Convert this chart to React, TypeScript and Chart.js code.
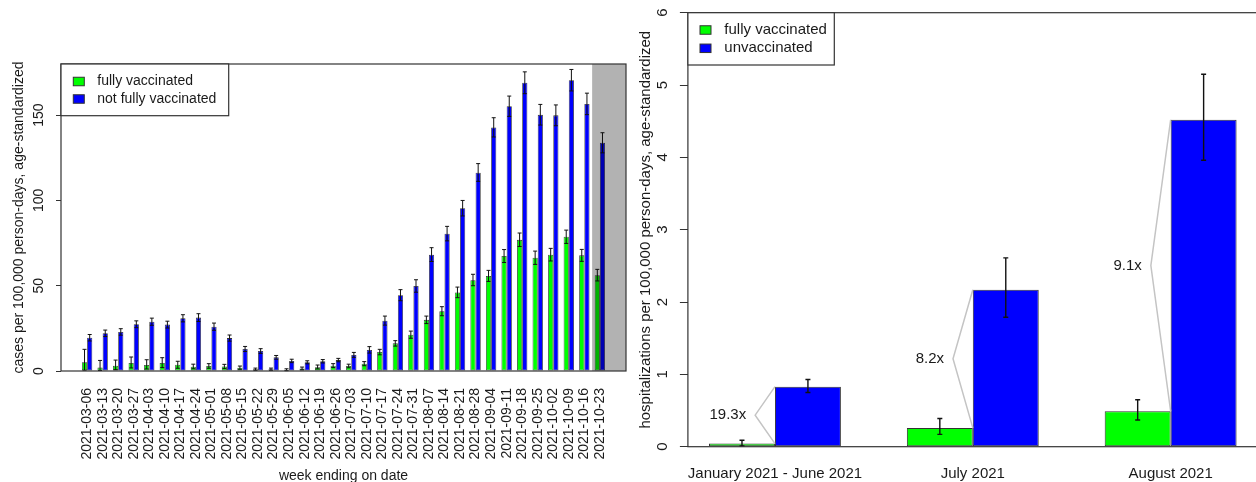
import React, { useEffect, useRef } from 'react';
import { Chart, registerables } from 'chart.js';

Chart.register(...registerables);

const FONT = "'Liberation Sans', Arial, Helvetica, sans-serif";
const TEXT = '#1a1a1a';
const GREEN = '#00ff00';
const BLUE = '#0000ff';
const EDGE = '#333333';

// ---------- left chart: weekly cases ----------
const weeks = [
  '2021-03-06', '2021-03-13', '2021-03-20', '2021-03-27', '2021-04-03', '2021-04-10',
  '2021-04-17', '2021-04-24', '2021-05-01', '2021-05-08', '2021-05-15', '2021-05-22',
  '2021-05-29', '2021-06-05', '2021-06-12', '2021-06-19', '2021-06-26', '2021-07-03',
  '2021-07-10', '2021-07-17', '2021-07-24', '2021-07-31', '2021-08-07', '2021-08-14',
  '2021-08-21', '2021-08-28', '2021-09-04', '2021-09-11', '2021-09-18', '2021-09-25',
  '2021-10-02', '2021-10-09', '2021-10-16', '2021-10-23',
];
const vaxCases = [
  5.1, 2.0, 3.1, 4.7, 3.5, 4.7, 3.7, 2.5, 2.9, 2.7, 1.9, 1.0, 1.0, 0.7, 1.5, 2.2, 3.1, 2.9,
  4.3, 11.1, 16.2, 21.3, 30.0, 35.0, 46.0, 53.2, 55.7, 67.4, 76.9, 66.4, 68.2, 78.7, 67.8, 56.2,
];
const vaxCasesLow = [
  0.5, 0.3, 0.8, 1.8, 1.2, 2.0, 1.6, 1.3, 1.6, 1.4, 1.0, 0.4, 0.4, 0.2, 0.7, 1.2, 2.0, 1.9,
  3.1, 9.5, 14.6, 19.2, 27.8, 32.4, 43.0, 50.0, 52.5, 63.6, 73.0, 62.5, 64.5, 74.8, 64.3, 52.8,
];
const vaxCasesHigh = [
  12.7, 6.2, 6.4, 8.2, 6.6, 7.8, 5.7, 4.0, 4.3, 3.9, 2.9, 1.7, 1.7, 1.3, 2.3, 3.5, 4.3, 4.0,
  5.5, 12.7, 17.8, 23.4, 32.2, 37.7, 49.2, 56.7, 59.0, 71.2, 80.9, 70.3, 71.9, 82.6, 71.3, 59.6,
];
const unvaxCases = [
  19.5, 22.1, 22.9, 27.4, 28.9, 27.2, 30.9, 31.3, 26.0, 19.3, 12.9, 11.7, 8.0, 5.9, 5.1, 5.7, 6.4, 9.4,
  12.3, 29.5, 44.4, 49.8, 68.2, 80.5, 95.4, 116.3, 142.8, 155.2, 169.0, 150.2, 149.9, 170.5, 156.6, 133.8,
];
const unvaxCasesLow = [
  17.6, 20.2, 21.0, 25.4, 26.8, 25.2, 28.8, 29.0, 23.9, 17.5, 11.4, 10.3, 6.9, 4.9, 4.2, 4.7, 5.4, 8.0,
  10.5, 26.9, 41.2, 46.2, 64.2, 76.3, 90.9, 111.2, 137.2, 149.3, 162.6, 144.2, 143.8, 164.2, 150.3, 127.9,
];
const unvaxCasesHigh = [
  21.4, 24.0, 24.8, 29.4, 31.0, 29.2, 33.0, 33.6, 28.1, 21.1, 14.4, 13.1, 9.1, 6.9, 6.0, 6.7, 7.4, 10.9,
  14.3, 32.2, 47.7, 53.5, 72.3, 84.8, 100.0, 121.6, 148.5, 161.2, 175.4, 156.3, 156.0, 176.8, 162.9, 139.7,
];
const caseTicks = [0, 50, 100, 150];
const caseMax = 180;
const shadedFromWeek = '2021-10-23';

// ---------- right chart: hospitalizations ----------
const periods = ['January 2021 - June 2021', 'July 2021', 'August 2021'];
const vaxHosp = [0.043, 0.26, 0.49];
const vaxHospLow = [0.01, 0.17, 0.37];
const vaxHospHigh = [0.09, 0.39, 0.65];
const unvaxHosp = [0.83, 2.17, 4.52];
const unvaxHospLow = [0.75, 1.79, 3.96];
const unvaxHospHigh = [0.93, 2.61, 5.15];
const hospRatios = ['19.3x', '8.2x', '9.1x'];
const hospTicks = [0, 1, 2, 3, 4, 5, 6];
const hospMax = 6;

// R barplot(beside=TRUE) layout: bar width 1, one empty unit before each group
const groupCenter = (i: number) => 2 + 3 * i;
const xRange = (n: number) => {
  const lo = 1, hi = 3 * n;
  const ext = (hi - lo) * 0.04;
  return { min: lo - ext, max: hi + ext };
};

type Err = { lo: number[]; hi: number[] };

function errorBarsPlugin(id: string, sets: Err[], capHalf: number, lw: number) {
  return {
    id,
    afterDatasetsDraw(chart: any) {
      const ctx = chart.ctx;
      const ys = chart.scales.y;
      ctx.save();
      ctx.strokeStyle = '#111';
      ctx.lineWidth = lw;
      sets.forEach((e, di) => {
        const meta = chart.getDatasetMeta(di);
        meta.data.forEach((bar: any, i: number) => {
          const x = bar.x;
          const y1 = ys.getPixelForValue(e.lo[i]);
          const y2 = ys.getPixelForValue(e.hi[i]);
          ctx.beginPath();
          ctx.moveTo(x, y1);
          ctx.lineTo(x, y2);
          ctx.moveTo(x - capHalf, y1);
          ctx.lineTo(x + capHalf, y1);
          ctx.moveTo(x - capHalf, y2);
          ctx.lineTo(x + capHalf, y2);
          ctx.stroke();
        });
      });
      ctx.restore();
    },
  };
}

function shadePlugin(fromIndex: number) {
  return {
    id: 'shade',
    afterDatasetsDraw(chart: any) {
      const { ctx, chartArea } = chart;
      const xs = chart.scales.x;
      const x0 = xs.getPixelForValue(groupCenter(fromIndex) - 1.5);
      ctx.save();
      ctx.fillStyle = 'rgba(0,0,0,0.3)';
      ctx.fillRect(x0, chartArea.top, chartArea.right - x0, chartArea.bottom - chartArea.top);
      ctx.restore();
    },
  };
}

const framePlugin = {
  id: 'frame',
  afterDraw(chart: any) {
    const { ctx, chartArea } = chart;
    ctx.save();
    ctx.strokeStyle = EDGE;
    ctx.lineWidth = 1.2;
    ctx.strokeRect(chartArea.left, chartArea.top, chartArea.right - chartArea.left, chartArea.bottom - chartArea.top);
    ctx.restore();
  },
};

type LegendGeom = { w: number; h: number; sqX: number; sqW: number; sqH: number; rows: number[]; textX: number; size: number };

function legendPlugin(items: { label: string; color: string }[], g: LegendGeom) {
  return {
    id: 'boxLegend',
    afterDraw(chart: any) {
      const { ctx, chartArea } = chart;
      const L = chartArea.left, T = chartArea.top;
      ctx.save();
      ctx.fillStyle = '#fff';
      ctx.fillRect(L, T, g.w, g.h);
      ctx.strokeStyle = EDGE;
      ctx.lineWidth = 1.2;
      ctx.strokeRect(L, T, g.w, g.h);
      ctx.font = `${g.size}px ${FONT}`;
      ctx.textBaseline = 'middle';
      ctx.textAlign = 'left';
      items.forEach((it, k) => {
        const cy = T + g.rows[k];
        ctx.fillStyle = it.color;
        ctx.fillRect(L + g.sqX, cy - g.sqH / 2, g.sqW, g.sqH);
        ctx.strokeStyle = EDGE;
        ctx.lineWidth = 1;
        ctx.strokeRect(L + g.sqX, cy - g.sqH / 2, g.sqW, g.sqH);
        ctx.fillStyle = TEXT;
        ctx.fillText(it.label, L + g.textX, cy);
      });
      ctx.restore();
    },
  };
}

const ratioPlugin = {
  id: 'ratios',
  afterDatasetsDraw(chart: any) {
    const { ctx } = chart;
    const xs = chart.scales.x, ys = chart.scales.y;
    ctx.save();
    hospRatios.forEach((txt, i) => {
      const bx = xs.getPixelForValue(groupCenter(i));
      const vx = xs.getPixelForValue(groupCenter(i) - 0.3);
      const yg = ys.getPixelForValue(vaxHosp[i]);
      const yb = ys.getPixelForValue(unvaxHosp[i]);
      const vy = (yg + yb) / 2;
      ctx.strokeStyle = '#c4c4c4';
      ctx.lineWidth = 1.5;
      ctx.beginPath();
      ctx.moveTo(bx, yg);
      ctx.lineTo(vx, vy);
      ctx.lineTo(bx, yb);
      ctx.stroke();
      ctx.fillStyle = TEXT;
      ctx.font = `15px ${FONT}`;
      ctx.textAlign = 'right';
      ctx.textBaseline = 'middle';
      ctx.fillText(txt, vx - 9, vy);
    });
    ctx.restore();
  },
};

function barDataset(label: string, values: number[], color: string, bw: number) {
  return {
    label,
    data: values.map((v, i) => ({ x: groupCenter(i), y: v })),
    backgroundColor: color,
    borderColor: EDGE,
    borderWidth: bw,
    borderSkipped: false,
    categoryPercentage: 2 / 3,
    barPercentage: 1,
  };
}

function CasesChart() {
  const ref = useRef<HTMLCanvasElement>(null);
  useEffect(() => {
    const r = xRange(weeks.length);
    const chart = new Chart(ref.current as HTMLCanvasElement, {
      type: 'bar',
      data: {
        datasets: [
          barDataset('fully vaccinated', vaxCases, GREEN, 0.8),
          barDataset('not fully vaccinated', unvaxCases, BLUE, 0.8),
        ] as any,
      },
      options: {
        animation: false,
        responsive: false,
        events: [],
        layout: { padding: { left: 0, top: 64, right: 24, bottom: 0 } },
        plugins: { legend: { display: false }, tooltip: { enabled: false } },
        scales: {
          x: {
            type: 'linear',
            min: r.min,
            max: r.max,
            bounds: 'data',
            offset: false,
            afterBuildTicks: (s: any) => { s.ticks = weeks.map((_, i) => ({ value: groupCenter(i) })); },
            afterFit: (s: any) => { s.height = 111; s.paddingLeft = 0; s.paddingRight = 0; },
            grid: { display: false, drawTicks: false, tickLength: 0 },
            border: { display: false },
            ticks: {
              autoSkip: false,
              minRotation: 90,
              maxRotation: 90,
              padding: 17,
              color: TEXT,
              font: { family: FONT, size: 14 },
              callback: (_v: any, i: number) => weeks[i],
            },
            title: {
              display: true,
              text: 'week ending on date',
              color: TEXT,
              font: { family: FONT, size: 14, lineHeight: 0.8 },
              padding: 0,
            },
          },
          y: {
            type: 'linear',
            min: 0,
            max: caseMax,
            bounds: 'data',
            afterBuildTicks: (s: any) => { s.ticks = caseTicks.map((v) => ({ value: v })); },
            afterFit: (s: any) => { s.width = 61; s.paddingTop = 0; s.paddingBottom = 0; },
            grid: { display: true, drawOnChartArea: false, drawTicks: true, tickLength: 5, color: EDGE, lineWidth: 1 },
            border: { display: false },
            ticks: {
              autoSkip: false,
              minRotation: 90,
              maxRotation: 90,
              crossAlign: 'center',
              padding: 5.3,
              color: TEXT,
              font: { family: FONT, size: 14 },
            },
            title: {
              display: true,
              text: 'cases per 100,000 person-days, age-standardized',
              color: TEXT,
              font: { family: FONT, size: 14 },
              padding: { top: 11, bottom: 0 },
            },
          },
        },
      } as any,
      plugins: [
        errorBarsPlugin('errCases', [
          { lo: vaxCasesLow, hi: vaxCasesHigh },
          { lo: unvaxCasesLow, hi: unvaxCasesHigh },
        ], 2, 1),
        shadePlugin(weeks.indexOf(shadedFromWeek)),
        framePlugin,
        legendPlugin(
          [{ label: 'fully vaccinated', color: GREEN }, { label: 'not fully vaccinated', color: BLUE }],
          { w: 167.7, h: 51.7, sqX: 12.3, sqW: 11, sqH: 8.5, rows: [17.5, 35], textX: 36.3, size: 14 },
        ),
      ] as any,
    });
    return () => chart.destroy();
  }, []);
  return <canvas ref={ref} width={650} height={482} style={{ position: 'absolute', left: 0, top: 0 }} />;
}

function HospChart() {
  const ref = useRef<HTMLCanvasElement>(null);
  useEffect(() => {
    const r = xRange(periods.length);
    const chart = new Chart(ref.current as HTMLCanvasElement, {
      type: 'bar',
      data: {
        datasets: [
          barDataset('fully vaccinated', vaxHosp, GREEN, 1),
          barDataset('unvaccinated', unvaxHosp, BLUE, 1),
        ] as any,
      },
      options: {
        animation: false,
        responsive: false,
        events: [],
        layout: { padding: { left: 0, top: 12.7, right: 34.3, bottom: 0 } },
        plugins: { legend: { display: false }, tooltip: { enabled: false } },
        scales: {
          x: {
            type: 'linear',
            min: r.min,
            max: r.max,
            bounds: 'data',
            offset: false,
            afterBuildTicks: (s: any) => { s.ticks = periods.map((_, i) => ({ value: groupCenter(i) })); },
            afterFit: (s: any) => { s.height = 35.3; s.paddingLeft = 0; s.paddingRight = 0; },
            grid: { display: false, drawTicks: false, tickLength: 0 },
            border: { display: false },
            ticks: {
              autoSkip: false,
              minRotation: 0,
              maxRotation: 0,
              padding: 17.8,
              color: TEXT,
              font: { family: FONT, size: 15 },
              callback: (_v: any, i: number) => periods[i],
            },
          },
          y: {
            type: 'linear',
            min: 0,
            max: hospMax,
            bounds: 'data',
            afterBuildTicks: (s: any) => { s.ticks = hospTicks.map((v) => ({ value: v })); },
            afterFit: (s: any) => { s.width = 55.9; s.paddingTop = 0; s.paddingBottom = 0; },
            grid: { display: true, drawOnChartArea: false, drawTicks: true, tickLength: 8, color: EDGE, lineWidth: 1 },
            border: { display: false },
            ticks: {
              autoSkip: false,
              minRotation: 90,
              maxRotation: 90,
              crossAlign: 'center',
              padding: 12.7,
              color: TEXT,
              font: { family: FONT, size: 15 },
            },
            title: {
              display: true,
              text: 'hospitalizations per 100,000 person-days, age-standardized',
              color: TEXT,
              font: { family: FONT, size: 15 },
              padding: { top: 5, bottom: 0 },
            },
          },
        },
      } as any,
      plugins: [
        ratioPlugin,
        errorBarsPlugin('errHosp', [
          { lo: vaxHospLow, hi: vaxHospHigh },
          { lo: unvaxHospLow, hi: unvaxHospHigh },
        ], 2.5, 1.4),
        framePlugin,
        legendPlugin(
          [{ label: 'fully vaccinated', color: GREEN }, { label: 'unvaccinated', color: BLUE }],
          { w: 146.4, h: 52.3, sqX: 12.1, sqW: 11, sqH: 8.5, rows: [17.3, 35.6], textX: 36.4, size: 15 },
        ),
      ] as any,
    });
    return () => chart.destroy();
  }, []);
  return <canvas ref={ref} width={660} height={482} style={{ position: 'absolute', left: 632, top: 0 }} />;
}

export default function App() {
  return (
    <div style={{ position: 'absolute', left: 0, top: 0, width: 1256, height: 482, overflow: 'hidden', background: '#fff' }}>
      <CasesChart />
      <HospChart />
    </div>
  );
}
